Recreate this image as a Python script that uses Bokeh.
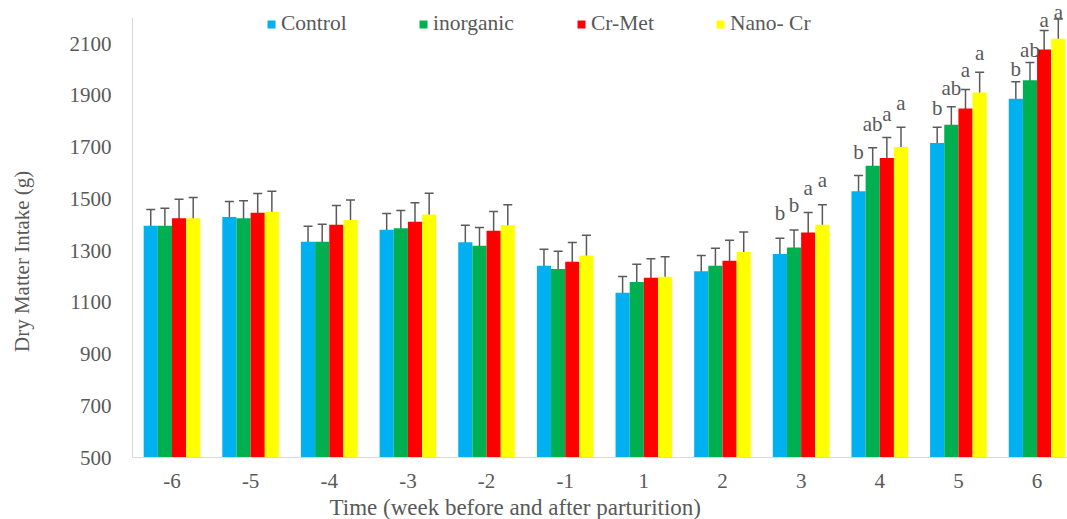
import math
from bokeh.plotting import figure
from bokeh.layouts import row
from bokeh.models import (ColumnDataSource, Whisker, TeeHead, Legend, LegendItem,
                          FixedTicker, Label, Title)
from bokeh.embed import file_html
from bokeh.resources import INLINE

# ---------------- data ----------------
weeks = ["-6", "-5", "-4", "-3", "-2", "-1", "1", "2", "3", "4", "5", "6"]
series_names = ["Control", "inorganic", "Cr-Met", "Nano- Cr"]

control   = [1396, 1430, 1334, 1381, 1332, 1241, 1137, 1220, 1287, 1529, 1716, 1887]
inorganic = [1396, 1425, 1334, 1386, 1319, 1229, 1179, 1241, 1312, 1628, 1787, 1959]
cr_met    = [1425, 1446, 1400, 1412, 1377, 1257, 1195, 1261, 1370, 1658, 1849, 2078]
nano_cr   = [1425, 1450, 1418, 1440, 1398, 1281, 1199, 1295, 1400, 1701, 1911, 2119]

err_control   = [63, 60, 60, 62, 66, 64, 63, 61, 61, 61, 61, 66]
err_inorganic = [68, 68, 68, 69, 70, 68, 68, 68, 68, 70, 69, 68]
err_cr_met    = [74, 75, 74, 73, 74, 74, 73, 79, 77, 79, 74, 73]
err_nano_cr   = [80, 79, 78, 82, 79, 78, 77, 77, 77, 76, 79, 76]

letters_control   = ["", "", "", "", "", "", "", "", "b", "b", "b", "b"]
letters_inorganic = ["", "", "", "", "", "", "", "", "b", "ab", "ab", "ab"]
letters_cr_met    = ["", "", "", "", "", "", "", "", "a", "a", "a", "a"]
letters_nano_cr   = ["", "", "", "", "", "", "", "", "a", "a", "a", "a"]

y_ticks = [500, 700, 900, 1100, 1300, 1500, 1700, 1900, 2100]

x_title = "Time (week before and after parturition)"
y_title = "Dry Matter Intake (g)"

# ---------------- style ----------------
colors = ["#00B0F0", "#00B050", "#FF0000", "#FFFF00"]
text_color = "#595959"
font = "Liberation Serif"
bar_w = 0.18
# px that each significance letter sits above its error cap (per series, per week)
base_lift = [0, 0, 0, 0, 0, 0, 0, 0, 25, 24, 19, 13]
letter_lift = [base_lift[:], base_lift[:], base_lift[:11] + [11], base_lift[:11] + [7]]
H = 523  # canvas height (bottom few px fall below the window, as in the reference)

values = [control, inorganic, cr_met, nano_cr]
errs = [err_control, err_inorganic, err_cr_met, err_nano_cr]
letters = [letters_control, letters_inorganic, letters_cr_met, letters_nano_cr]

# narrow strip holding the vertical axis title
side_w = 44
pl = figure(width=side_w, height=H, output_backend="svg", toolbar_location=None,
            x_range=(0, side_w), y_range=(0, H), min_border=0,
            x_axis_location=None, y_axis_location=None)
pl.outline_line_color = None
pl.grid.visible = False
pl.add_layout(Label(x=21.7, y=H - 268.5 - 30, text=y_title, angle=math.pi / 2,
                    text_align="center", text_baseline="middle",
                    text_font=font, text_font_size="21px", text_color=text_color))

p = figure(width=1067 - side_w, height=H, output_backend="svg", toolbar_location=None,
           x_range=(-0.502, 11.387), y_range=(500, 2267),
           min_border_left=132 - side_w, min_border_right=0, min_border_top=0,
           min_border_bottom=H - 457)
p.outline_line_color = None
p.xgrid.grid_line_color = None
p.ygrid.grid_line_color = None
p.background_fill_color = "white"

renderers = []
for i in range(4):
    off = (i - 1.5) * bar_w
    xs = [k + off for k in range(len(weeks))]
    up = [v + e for v, e in zip(values[i], errs[i])]
    lo = [v - e for v, e in zip(values[i], errs[i])]
    src = ColumnDataSource(dict(x=xs, top=values[i], upper=up, lower=lo))
    r = p.vbar(x="x", top="top", bottom=500, width=bar_w, source=src,
               fill_color=colors[i], line_color=None)
    renderers.append(r)
    w = Whisker(base="x", upper="upper", lower="lower", source=src,
                line_color="#5A5A5A", line_width=1.5,
                upper_head=TeeHead(size=9, line_color="#5A5A5A", line_width=1.5),
                lower_head=TeeHead(size=9, line_color="#5A5A5A", line_width=1.5))
    p.add_layout(w)
    for k in range(len(weeks)):
        if letters[i][k]:
            p.add_layout(Label(x=xs[k], y=up[k], text=letters[i][k],
                               y_offset=letter_lift[i][k],
                               text_align="center", text_baseline="alphabetic",
                               text_font=font, text_font_size="21px",
                               text_color=text_color))

# axes
p.yaxis.ticker = FixedTicker(ticks=y_ticks)
p.yaxis.bounds = (500, 2200)
p.yaxis.major_tick_line_color = None
p.yaxis.minor_tick_line_color = None
p.yaxis.major_tick_out = 0
p.yaxis.major_tick_in = 0
p.yaxis.major_label_standoff = 21
p.yaxis.axis_line_color = "#D9D9D9"
p.yaxis.major_label_text_font = font
p.yaxis.major_label_text_font_size = "21px"
p.yaxis.major_label_text_color = text_color

p.xaxis.ticker = FixedTicker(ticks=list(range(len(weeks))))
p.xaxis.major_label_overrides = {k: w for k, w in enumerate(weeks)}
p.xaxis.major_tick_line_color = None
p.xaxis.minor_tick_line_color = None
p.xaxis.major_tick_out = 0
p.xaxis.major_tick_in = 0
p.xaxis.major_label_standoff = 16
p.xaxis.axis_line_color = "#D9D9D9"
p.xaxis.major_label_text_font = font
p.xaxis.major_label_text_font_size = "21px"
p.xaxis.major_label_text_color = text_color

p.add_layout(Title(text=x_title, align="left", offset=197, standoff=4,
                   text_font=font, text_font_size="23px", text_font_style="normal",
                   text_color=text_color), "below")

# legend: one per item to mimic spacing
legend_x = [134, 286, 444, 583]
for i in range(4):
    lg = Legend(items=[LegendItem(label=series_names[i], renderers=[renderers[i]])],
                location=(legend_x[i], 421), orientation="horizontal",
                glyph_width=10, glyph_height=10, label_standoff=5,
                padding=0, margin=0, border_line_color=None,
                background_fill_alpha=0,
                label_text_font=font, label_text_font_size="21.5px",
                label_text_color=text_color)
    p.add_layout(lg)

open("out.html", "w").write(file_html(row(pl, p), INLINE))
